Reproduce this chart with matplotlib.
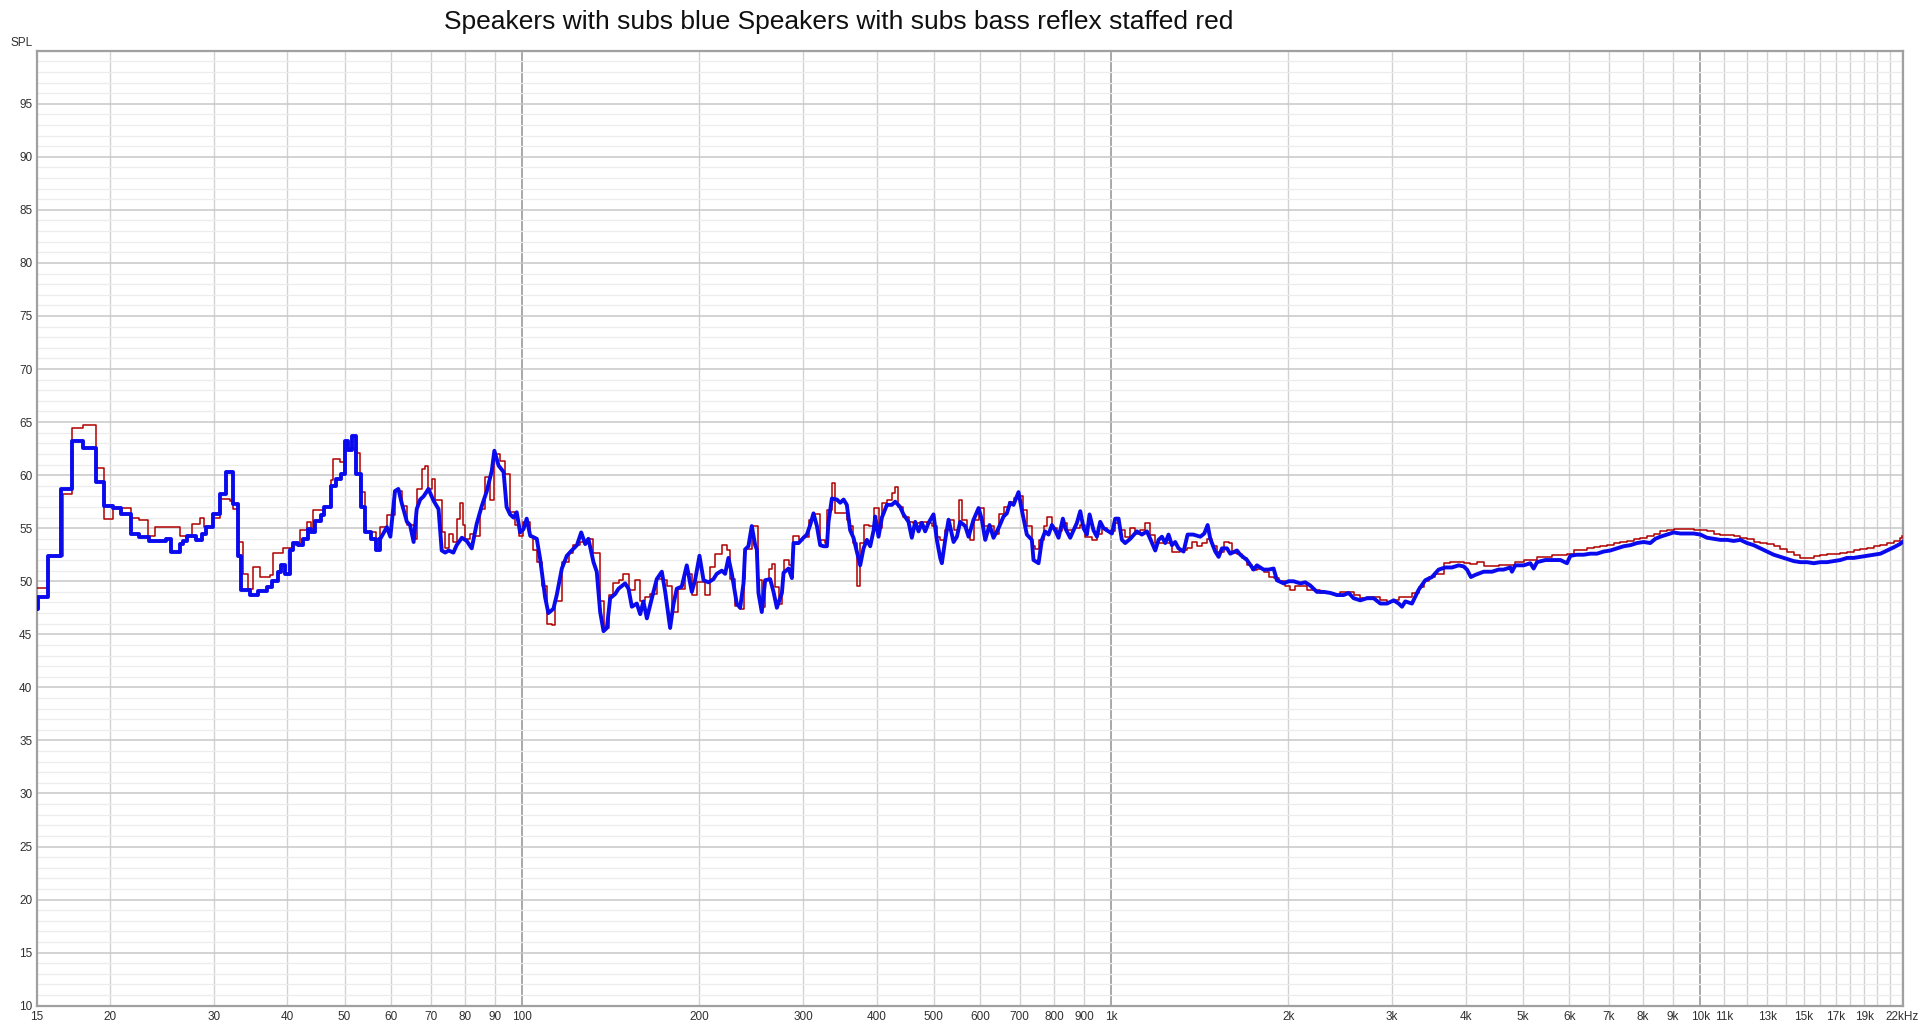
import matplotlib
matplotlib.use("Agg")
import matplotlib.pyplot as plt

# frequency response, blue = speakers with subs, red = subs bass reflex staffed
blue_hz = [15.0, 15.1, 15.7, 16.5, 17.2, 18.0, 18.9, 19.5, 20.2, 20.9, 21.7, 22.4, 23.3, 24.9, 25.4, 26.3,
           26.6, 27.0, 28.0, 28.6, 29.1, 29.9, 30.7, 31.4, 32.3, 33.0, 33.4, 34.5, 35.6, 37.0, 37.6, 38.5,
           39.0, 39.6, 40.4, 40.9, 41.7, 42.5, 43.4, 43.9, 44.5, 45.6, 46.2, 47.5, 48.4, 49.4, 50.0, 50.6,
           51.5, 52.3, 53.4, 54.1, 55.5, 56.6, 57.5, 59.0, 59.8, 60.9, 61.7, 62.5, 63.8, 64.6, 65.5, 66.3,
           67.2, 68.1, 69.4, 70.8, 72.2, 73.1, 74.1, 75.1, 76.5, 77.5, 79.1, 80.6, 82.2, 83.8, 85.5, 87.2,
           88.9, 89.8, 91.3, 93.1, 94.2, 95.5, 96.8, 98.0, 99.3, 100.6, 101.9, 103.3, 106.0, 107.4, 109.5,
           110.9, 113.1, 114.6, 116.9, 119.2, 121.5, 124.0, 126.1, 128.1, 129.7, 132.3, 134.0, 135.8, 137.6,
           139.4, 141.2, 144.0, 145.9, 149.7, 151.7, 153.7, 156.7, 158.8, 160.8, 163.0, 166.2, 169.4, 172.8,
           175.1, 178.5, 180.8, 183.2, 186.8, 190.5, 194.3, 196.8, 200.2, 203.4, 207.4, 211.4, 214.2, 218.5,
           221.3, 224.2, 227.2, 231.6, 234.7, 237.8, 239.3, 242.4, 245.6, 248.9, 250.5, 252.1, 255.4, 258.8,
           263.9, 267.4, 270.9, 276.3, 278.1, 283.6, 287.3, 289.1, 294.9, 300.6, 304.6, 308.6, 312.6, 316.8,
           320.9, 325.1, 329.4, 331.5, 335.9, 342.5, 347.0, 351.6, 356.1, 360.8, 365.5, 370.4, 375.2, 380.1,
           385.2, 390.2, 395.4, 397.9, 403.1, 408.4, 416.5, 424.6, 430.2, 438.6, 444.4, 453.2, 459.1, 465.2,
           471.3, 477.5, 483.7, 490.1, 499.7, 506.3, 513.0, 516.3, 523.1, 530.0, 540.5, 547.6, 554.6, 565.6,
           573.1, 584.4, 596.0, 603.7, 611.7, 622.0, 631.8, 644.3, 657.0, 665.6, 674.3, 683.2, 696.7, 705.8,
           719.7, 733.9, 738.7, 753.4, 763.3, 773.2, 783.4, 793.7, 804.1, 814.7, 828.6, 836.2, 852.7, 863.9,
           875.2, 886.8, 898.3, 910.1, 919.6, 934.0, 946.4, 958.7, 971.4, 984.2, 1003.5, 1016.7, 1030.0,
           1043.5, 1057.1, 1078.0, 1106.5, 1128.3, 1150.6, 1165.8, 1188.8, 1204.3, 1220.1, 1236.2, 1252.2,
           1268.8, 1285.2, 1302.2, 1328.0, 1349.0, 1379.0, 1418.0, 1440.0, 1458.9, 1474.3, 1503.2, 1523.0,
           1543.0, 1573.5, 1594.0, 1636.0, 1657.7, 1701.4, 1745.9, 1769.0, 1815.5, 1851.4, 1888.0, 1912.5,
           1963.4, 2001.9, 2041.5, 2095.6, 2136.7, 2178.9, 2236.5, 2295.6, 2356.4, 2418.6, 2482.5, 2531.5,
           2581.5, 2649.7, 2719.6, 2791.8, 2865.5, 2941.1, 3018.6, 3078.3, 3119.0, 3159.0, 3242.2, 3328.5,
           3416.4, 3506.6, 3599.0, 3694.0, 3792.1, 3891.9, 3968.7, 4019.6, 4083.0, 4153.2, 4291.6, 4434.0,
           4549.9, 4639, 4762, 4793, 4856, 5017, 5150, 5217, 5286, 5462, 5606, 5792, 5943, 6022, 6180, 6344,
           6512, 6683, 6860, 7041, 7228, 7418, 7613, 7814, 8020, 8230, 8395, 8560, 8786, 9018, 9257, 9502,
           9752, 10010, 10274, 10546, 10825, 11110, 11403, 11704, 12013, 12331, 12656, 12990, 13333, 13686,
           14047, 14418, 14798, 15189, 15591, 16002, 16425, 16859, 17303, 17762, 18231, 18712, 19206, 19713,
           20236, 20770, 21318, 21825, 22050]
blue_db = [47.4, 48.5, 52.4, 58.7, 63.2, 62.6, 59.4, 57.1, 56.9, 56.3, 54.5, 54.2, 53.8, 54.0, 52.8, 53.5,
           53.8, 54.3, 53.9, 54.5, 55.1, 56.3, 58.2, 60.3, 57.3, 52.4, 49.2, 48.7, 49.1, 49.5, 50.0, 50.9,
           51.5, 50.7, 52.9, 53.6, 53.4, 54.0, 54.9, 54.6, 55.7, 56.2, 57.0, 59.0, 59.6, 60.1, 63.2, 62.4,
           63.7, 60.1, 57.0, 54.6, 54.0, 52.9, 54.0, 55.1, 54.2, 58.5, 58.7, 57.4, 55.6, 55.3, 53.7, 56.8,
           57.7, 58.0, 58.7, 57.6, 56.8, 52.9, 52.7, 52.9, 52.7, 53.4, 54.1, 53.8, 53.1, 55.4, 57.1, 58.5,
           60.4, 62.3, 60.9, 60.3, 57.0, 56.3, 56.0, 56.5, 54.6, 54.9, 55.9, 54.3, 54.0, 52.1, 48.5,
           47.0, 47.4, 48.7, 51.2, 52.4, 52.9, 53.4, 54.6, 53.5, 54.0, 51.8, 50.9, 47.1, 45.3,
           45.6, 48.4, 48.8, 49.3, 49.8, 49.3, 47.6, 47.9, 46.9, 48.1, 46.5, 48.4, 50.2, 50.9,
           49.0, 45.6, 47.8, 49.3, 49.5, 51.5, 49.0, 50.1, 52.4, 50.1, 49.9, 50.2, 50.7, 51.0,
           50.7, 52.2, 50.7, 47.9, 47.5, 49.8, 53.0, 53.3, 55.2, 53.4, 53.0, 48.9, 47.1, 50.1,
           50.2, 49.0, 47.5, 48.9, 50.8, 51.2, 50.3, 53.6, 53.6, 54.1, 54.4, 55.3, 56.4, 55.2,
           53.4, 53.3, 53.3, 55.6, 57.8, 57.7, 57.4, 57.7, 57.2, 54.8, 54.1, 52.8, 51.5, 53.1,
           53.9, 53.3, 54.8, 56.1, 54.2, 56.0, 57.2, 57.2, 57.5, 57.0, 56.3, 55.6, 54.1, 55.6,
           54.7, 55.5, 54.7, 55.5, 56.3, 53.9, 52.2, 51.7, 53.9, 55.8, 53.7, 54.2, 55.6, 55.2,
           54.2, 55.8, 56.9, 55.8, 53.9, 55.3, 54.1, 55.0, 56.1, 56.4, 57.4, 57.2, 58.4, 56.7,
           54.4, 53.9, 52.0, 51.7, 53.9, 54.7, 54.4, 55.3, 54.8, 54.1, 55.9, 55.0, 54.1, 54.8,
           55.5, 56.6, 55.0, 54.4, 56.3, 54.8, 54.2, 55.6, 55.0, 54.8, 54.5, 55.9, 55.9,
           53.9, 53.6, 54.0, 54.7, 54.4, 54.7, 54.0, 52.9, 53.9, 54.2, 53.6, 54.4,
           53.4, 53.7, 53.1, 52.8, 54.4, 54.4, 54.2, 54.5, 55.3, 54.0, 52.8, 52.3,
           53.1, 53.1, 52.6, 52.9, 52.5, 52.0, 51.1, 51.5, 51.1, 51.1, 51.2, 50.1,
           49.8, 50.0, 50.0, 49.8, 49.9, 49.6, 49.0, 49.0, 48.9, 48.7, 48.7, 48.9,
           48.4, 48.2, 48.4, 48.4, 47.9, 47.9, 48.2, 47.9, 47.6, 48.1, 47.9, 49.2,
           50.1, 50.4, 51.1, 51.3, 51.3, 51.5, 51.4, 51.1, 50.4, 50.6, 50.9, 50.9,
           51.1, 51.1, 51.3, 50.9, 51.5, 51.5, 51.7, 51.2, 51.8, 52.0, 52.0, 52.0, 51.7, 52.4, 52.5, 52.5,
           52.6, 52.6, 52.8, 52.9, 53.1, 53.3, 53.4, 53.6, 53.7, 53.6, 54.0, 54.2, 54.4, 54.6, 54.5, 54.5,
           54.5, 54.4, 54.1, 54.0, 53.9, 53.9, 53.8, 53.9, 53.6, 53.4, 53.1, 52.8, 52.5, 52.3,
           52.1, 51.9, 51.8, 51.8, 51.7, 51.8, 51.8, 51.9, 52.0, 52.2, 52.2, 52.3, 52.4, 52.5,
           52.6, 52.9, 53.2, 53.5, 53.7]

red_hz = [15.0, 15.7, 16.65, 17.25, 18.0, 18.9, 19.5, 20.2, 21.7, 22.4, 23.2, 23.8, 26.3, 27.5, 28.4, 28.9,
          29.9, 30.7, 32.0, 32.3, 33.0, 33.6, 34.3, 34.9, 35.9, 37.3, 37.8, 39.3, 40.9, 42.0, 43.1, 43.9,
          44.2, 46.2, 47.5, 47.8, 49.1, 50.0, 52.0, 53.1, 54.1, 54.4, 56.6, 57.5, 59.0, 60.9, 62.5, 63.8,
          65.5, 66.3, 67.6, 68.5, 69.4, 70.3, 71.2, 73.1, 74.1, 75.1, 76.5, 77.5, 78.5, 79.4, 80.1, 81.7,
          83.3, 84.9, 86.6, 88.3, 89.8, 91.9, 93.7, 95.5, 97.4, 98.7, 100.6, 103.3, 104.6, 106.0, 108.1,
          110.2, 112.4, 113.9, 116.9, 120.0, 122.3, 125.6, 128.9, 132.3, 135.8, 137.6, 140.3, 143.0, 145.9,
          148.7, 151.7, 155.7, 158.8, 161.9, 165.1, 169.4, 174.0, 176.2, 179.7, 184.4, 189.3, 194.3, 198.2,
          204.7, 208.8, 212.8, 218.5, 222.8, 225.7, 230.1, 234.7, 237.8, 239.3, 245.6, 252.1, 255.4, 258.8,
          262.2, 265.7, 269.1, 272.7, 276.3, 278.1, 283.6, 289.1, 294.9, 300.6, 306.6, 312.6, 320.9, 327.2,
          330.2, 335.9, 340.3, 349.3, 356.1, 360.8, 365.5, 370.4, 375.2, 380.1, 387.7, 395.4, 403.1, 408.4,
          416.5, 424.6, 430.2, 435.8, 444.4, 453.2, 462.1, 474.4, 486.9, 496.5, 506.3, 513.0, 523.1, 530.0,
          540.5, 551.1, 558.3, 569.3, 576.8, 584.4, 596.0, 607.7, 619.7, 631.8, 644.3, 657.0, 670.0, 683.2,
          696.7, 708.6, 719.7, 733.9, 743.6, 753.4, 768.2, 778.3, 793.7, 809.3, 825.3, 841.6, 863.9, 886.8,
          904.3, 928.0, 946.4, 965.0, 984.2, 1003.5, 1016.7, 1036.8, 1057.1, 1078.0, 1099.2, 1121.0, 1143.1,
          1165.8, 1188.8, 1244.3, 1268.8, 1310.7, 1345.3, 1371.8, 1399.0, 1426.6, 1454.9, 1483.6, 1513.2,
          1553.0, 1583.8, 1604.5, 1636.0, 1668.6, 1701.4, 1735.2, 1769.0, 1815.5, 1851.4, 1888.0, 1925.3,
          1976.1, 2015.2, 2055.0, 2095.6, 2151.0, 2207.6, 2265.9, 2325.6, 2387.0, 2450.0, 2514.0, 2581.5,
          2649.7, 2719.6, 2791.8, 2865.5, 2941.1, 3018.6, 3078.3, 3159.0, 3242.2, 3328.5, 3393.6, 3460.6,
          3552.5, 3669.8, 3767.0, 3866.0, 3968.7, 4073.0, 4180.0, 4291.6, 4434.0, 4549.9, 4639, 4762, 4856,
          5017, 5150, 5286, 5462, 5606, 5792, 5943, 6101, 6261, 6427, 6597, 6771, 6950, 7133, 7321, 7514,
          7712, 7917, 8126, 8339, 8560, 8786, 9018, 9257, 9502, 9752, 10010, 10274, 10546, 10825, 11110,
          11403, 11704, 12013, 12331, 12656, 12990, 13333, 13686, 14047, 14418, 14798, 15189, 15591, 16002,
          16425, 16859, 17303, 17762, 18231, 18712, 19206, 19713, 20236, 20770, 21318, 21825, 22050]
red_db = [49.4, 52.4, 58.2, 64.4, 64.75, 60.7, 55.9, 56.9, 56.0, 55.8, 54.3, 55.1, 54.3, 55.4, 56.0, 55.1,
          56.0, 57.75, 57.6, 56.8, 53.7, 50.7, 49.3, 51.3, 50.4, 50.6, 52.7, 53.1, 53.4, 54.8, 55.6, 54.6,
          56.7, 57.0, 59.5, 61.5, 61.2, 62.6, 62.1, 58.4, 55.4, 54.6, 54.0, 55.1, 56.2, 58.5, 57.1, 55.3,
          54.0, 58.7, 60.6, 60.9, 58.7, 59.6, 57.7, 54.6, 53.1, 54.5, 53.7, 55.9, 57.4, 55.3, 54.0, 54.5,
          54.3, 56.8, 59.8, 57.7, 62.0, 61.3, 60.1, 56.5, 55.3, 54.3, 55.6, 54.2, 52.9, 51.8, 49.6,
          46.0, 45.9, 48.1, 51.8, 52.7, 53.4, 53.7, 54.0, 52.7, 48.1, 45.6, 48.7, 49.8, 50.1,
          50.7, 49.2, 50.1, 48.1, 48.5, 48.8, 50.2, 50.1, 49.6, 47.1, 49.3, 50.7, 48.7, 49.9,
          48.7, 51.3, 52.6, 53.4, 52.9, 50.2, 47.7, 47.4, 50.2, 53.0, 55.2, 50.1, 47.6, 50.1,
          51.2, 51.6, 49.5, 47.9, 50.1, 52.0, 51.5, 54.3, 53.9, 54.2, 55.8, 56.3, 53.9, 53.6,
          56.7, 59.3, 56.4, 56.4, 55.8, 55.2, 53.6, 49.6, 53.6, 55.3, 55.2, 56.9, 55.0, 57.4,
          57.7, 58.3, 58.9, 57.0, 56.1, 55.6, 55.5, 55.6, 55.5, 55.2, 54.2, 53.9, 54.8, 55.8,
          54.8, 57.7, 55.8, 54.8, 53.9, 55.8, 56.9, 55.2, 55.2, 54.5, 56.3, 57.0, 57.5, 57.8,
          58.0, 56.7, 55.2, 53.3, 53.0, 53.9, 55.2, 56.1, 55.0, 54.7, 55.5, 54.8, 55.0, 55.3,
          54.2, 53.9, 54.5, 55.0, 54.7, 54.7, 55.5, 54.8, 54.2, 55.0, 54.5, 54.8, 55.5,
          54.4, 53.6, 53.6, 52.8, 52.9, 53.1, 53.7, 53.3, 53.6, 54.0, 53.3, 52.8,
          53.7, 53.6, 52.7, 52.6, 52.2, 51.5, 51.1, 51.2, 50.9, 50.4, 50.3, 50.0,
          49.6, 49.2, 49.6, 49.6, 49.2, 49.2, 48.9, 48.9, 48.7, 49.0, 49.0, 48.7,
          48.4, 48.5, 48.5, 48.2, 48.0, 48.2, 48.5, 48.5, 48.9, 49.5, 50.0, 50.4,
          50.7, 51.7, 51.8, 51.8, 51.7, 51.6, 51.8, 51.4, 51.4, 51.5, 51.5, 51.5, 51.8,
          52.0, 52.0, 52.3, 52.3, 52.5, 52.5, 52.6, 52.9, 52.9, 53.1, 53.2, 53.3, 53.4, 53.6, 53.7, 53.8,
          54.0, 54.1, 54.3, 54.5, 54.7, 54.8, 54.9, 54.9, 54.9, 54.8, 54.8, 54.7, 54.5, 54.4, 54.4,
          54.3, 54.1, 54.0, 53.7, 53.6, 53.5, 53.3, 53.0, 52.8, 52.5, 52.2, 52.2, 52.4, 52.5,
          52.6, 52.6, 52.7, 52.8, 52.9, 53.0, 53.1, 53.3, 53.4, 53.6, 53.8, 54.1, 54.3]

# axis ticks / grid
xtick_hz = [15, 20, 30, 40, 50, 60, 70, 80, 90, 100, 200, 300, 400, 500, 600, 700, 800, 900, 1000,
            2000, 3000, 4000, 5000, 6000, 7000, 8000, 9000, 10000, 11000, 13000, 15000, 17000, 19000, 22000]
xtick_lbl = ['15', '20', '30', '40', '50', '60', '70', '80', '90', '100', '200', '300', '400', '500', '600',
             '700', '800', '900', '1k', '2k', '3k', '4k', '5k', '6k', '7k', '8k', '9k', '10k', '11k', '13k',
             '15k', '17k', '19k', '22kHz']
faint_lbl = ['11k', '13k', '15k', '17k', '19k']
vgrid_major = [100, 1000, 10000]
vgrid_minor = [20, 30, 40, 50, 60, 70, 80, 90, 200, 300, 400, 500, 600, 700, 800, 900,
               2000, 3000, 4000, 5000, 6000, 7000, 8000, 9000] + list(range(11000, 23000, 1000))
ytick_db = list(range(10, 100, 5))

plt.rcParams['font.family'] = ['Liberation Sans', 'DejaVu Sans']

fig = plt.figure(figsize=(19.2, 10.25), dpi=100)
ax = fig.add_axes([36.5 / 1920, 1 - 1005.7 / 1025, (1903 - 36.5) / 1920, (1005.7 - 50.7) / 1025])
ax.set_xscale('log')
ax.set_xlim(15, 22100)
ax.set_ylim(10, 100)

# horizontal grid: 1 dB light, 5 dB darker
ax.set_yticks(ytick_db)
ax.set_yticks(range(10, 101), minor=True)
ax.yaxis.grid(True, which='minor', color='#ececec', lw=0.9, zorder=0)
ax.yaxis.grid(True, which='major', color='#c8c8c8', lw=1.1, zorder=0)
for f in vgrid_minor:
    ax.axvline(f, color='#d2d2d2', lw=1.0, zorder=0.5)
for f in vgrid_major:
    ax.axvline(f, color='#9a9a9a', lw=1.2, zorder=0.5)

ax.set_xticks(xtick_hz)
ax.set_xticklabels(xtick_lbl)
ax.xaxis.set_minor_locator(matplotlib.ticker.NullLocator())
for t in ax.get_xticklabels():
    if t.get_text() in faint_lbl:
        t.set_color('#9a9a9a')
ax.tick_params(which='both', length=0, labelsize=8.5, labelcolor='#303030', pad=3)
ax.tick_params(axis='x', pad=4)

# red: stepped thin trace; blue: stepped at the bottom end, then a plain line
ax.plot(red_hz, red_db, drawstyle='steps-post', color='#b00000', lw=1.1, zorder=3)
k = next(i for i, f in enumerate(blue_hz) if f >= 57)
ax.plot(blue_hz[:k + 1], blue_db[:k + 1], drawstyle='steps-post', color='#0a0aee', lw=2.8, zorder=4,
        solid_joinstyle='round')
ax.plot(blue_hz[k:], blue_db[k:], color='#0a0aee', lw=2.8, zorder=4, solid_joinstyle='round')

for s in ax.spines.values():
    s.set_color('#a0a0a0')
    s.set_linewidth(1.6)

fig.text(33 / 1920, 1 - 43 / 1025, 'SPL', ha='right', va='center', fontsize=8.5, color='#303030')
fig.text(839 / 1920, 1 - 22 / 1025, 'Speakers with subs blue Speakers with subs bass reflex staffed red',
         ha='center', va='center', fontsize=19, color='#101010')

fig.savefig('out.png', dpi=100)
